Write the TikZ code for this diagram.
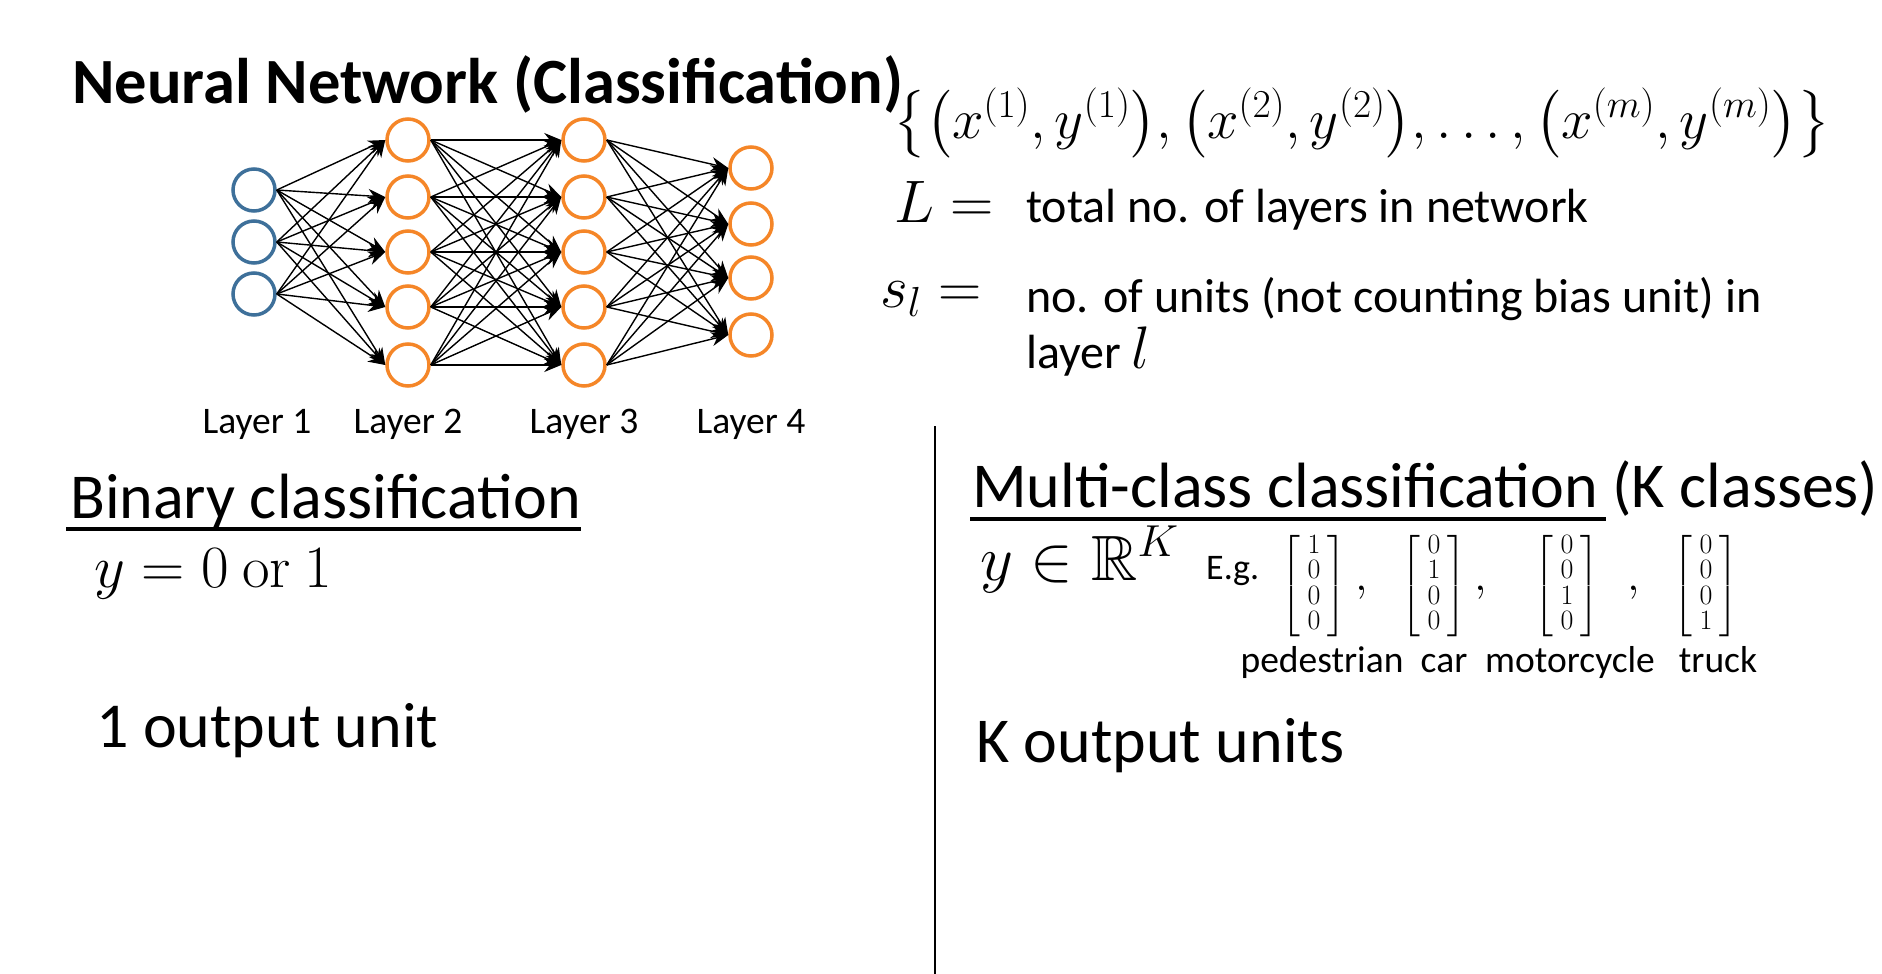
\RequirePackage{fix-cm}
\documentclass[tikz,border=0pt]{standalone}
\usepackage{amsmath,amssymb}
\usepackage[no-math]{fontspec}
\setmainfont{Carlito}
\usetikzlibrary{arrows.meta,positioning}
\DeclareFontFamily{U}{msb}{}
\DeclareFontShape{U}{msb}{m}{n}{<-> msbm10}{}
\definecolor{nnblue}{RGB}{62,112,154}
\definecolor{nnorange}{RGB}{245,134,40}
\newcommand{\onehot}[4]{\left[\begin{array}{@{\hspace{7pt}}c@{\hspace{7pt}}}#1\\#2\\#3\\#4\end{array}\right]}

\begin{document}
\begin{tikzpicture}[x=1pt, y=-1pt, >={Stealth[length=17pt,width=14pt]},
    unit/.style={circle, draw, line width=3.5pt, minimum size=42pt, inner sep=0pt},
    inunit/.style={unit, nnblue},
    hidunit/.style={unit, nnorange},
    link/.style={->, line width=1.4pt},
    txt/.style={inner sep=0pt, anchor=base west},
    titletxt/.style={txt, font=\fontsize{64.5}{77}\selectfont\bfseries},
    headtxt/.style={txt, font=\fontsize{64}{77}\selectfont},
    bodytxt/.style={txt, font=\fontsize{48}{57}\selectfont},
    mathtxt/.style={txt, font=\fontsize{60}{72}\selectfont},
    smalltxt/.style={inner sep=0pt, anchor=base, font=\fontsize{37.5}{45}\selectfont},
    vec/.style={inner sep=0pt, font=\fontsize{28}{24}\selectfont},
    uline/.style={line width=4.5pt},
  ]

    % Page
    \useasboundingbox[fill=white] (0,0) rectangle (1882,974);

    % Title
    \node[titletxt] (title) at (72,103) {Neural Network (Classification)};

    % Network units
    \foreach \y [count=\i] in {190,242,294}
        \node[inunit] (a\i) at (254,\y) {};
    \foreach \y [count=\i] in {140,197,252,307,365}
        \node[hidunit] (b\i) at (408,\y) {};
    \foreach \y [count=\i] in {140,197,252,307,365}
        \node[hidunit] (c\i) at (584,\y) {};
    \foreach \y [count=\i] in {168,224,278,335}
        \node[hidunit] (d\i) at (751,\y) {};

    % Connections
    \foreach \i in {1,...,3}
        \foreach \j in {1,...,5}
            \draw[link] (a\i.east) -- (b\j.west);
    \foreach \i in {1,...,5}
        \foreach \j in {1,...,5}
            \draw[link] (b\i.east) -- (c\j.west);
    \foreach \i in {1,...,5}
        \foreach \j in {1,...,4}
            \draw[link] (c\i.east) -- (d\j.west);

    % Layer labels
    \node[smalltxt] (lay1) at (257,433) {Layer 1};
    \node[smalltxt] (lay2) at (408,433) {Layer 2};
    \node[smalltxt] (lay3) at (584,433) {Layer 3};
    \node[smalltxt] (lay4) at (751,433) {Layer 4};

    % Notation
    \node[txt, font=\fontsize{56.5}{68}\selectfont] (data) at (893,138)
        {$\bigl\{\bigl(x^{(1)},y^{(1)}\bigr),\bigl(x^{(2)},y^{(2)}\bigr),\ldots,\bigl(x^{(m)},y^{(m)}\bigr)\bigr\}$};
    \node[mathtxt] (Leq) at (894,222) {$L =$};
    \node[bodytxt] (Ldef) at (1026,222) {total no. of layers in network};
    \node[mathtxt] (seq) at (880,307) {$s_l =$};
    \node[bodytxt] (sdef) at (1026,312) {no. of units (not counting bias unit) in};
    \node[bodytxt] (sdeftwo) at (1026,368) {layer \fontsize{60}{72}\selectfont$l$};

    % Divider
    \draw[line width=1.5pt] (935,426) -- (935,974);

    % Binary classification
    \node[headtxt] (binary) at (70,518) {Binary classification};
    \draw[uline] ([xshift=-4pt,yshift=-11pt]binary.base west) -- ([yshift=-11pt]binary.base east);
    \node[mathtxt] (ybin) at (94,587) {$y = 0 \ \mathrm{or}\ 1$};
    \node[headtxt] (oneout) at (96,747) {1 output unit};

    % Multi-class classification
    \node[headtxt] (multi) at (972,507) {Multi-class classification};
    \draw[uline] ([xshift=-2pt,yshift=-12pt]multi.base west) -- ([xshift=8pt,yshift=-12pt]multi.base east);
    \node[headtxt] (kcls) at ([xshift=14pt]multi.base east) {(K classes)};
    \node[txt, font=\fontsize{64}{76}\selectfont] (yin) at (980,580) {$y \in \mathbb{R}^K$};
    \node[txt, font=\fontsize{36}{43}\selectfont] (eg) at (1206,579) {E.g.};

    \node[vec] (ped) at (1314,586) {$\onehot{1}{0}{0}{0}$};
    \node[vec] (car) at (1434,586) {$\onehot{0}{1}{0}{0}$};
    \node[vec] (moto) at (1567,586) {$\onehot{0}{0}{1}{0}$};
    \node[vec] (truck) at (1706,586) {$\onehot{0}{0}{0}{1}$};
    \node[txt, font=\fontsize{46}{50}\selectfont] (cm1) at (1355,590) {$,$};
    \node[txt, font=\fontsize{46}{50}\selectfont] (cm2) at (1474,590) {$,$};
    \node[txt, font=\fontsize{46}{50}\selectfont] (cm3) at (1627,590) {$,$};

    \node[smalltxt] (pedlbl) at (1322,672) {pedestrian};
    \node[smalltxt] (carlbl) at (1444,672) {car};
    \node[smalltxt] (motolbl) at (1570,672) {motorcycle};
    \node[smalltxt] (trucklbl) at (1718,672) {truck};

    \node[headtxt] (kout) at (976,762) {K output units};

\end{tikzpicture}
\end{document}
